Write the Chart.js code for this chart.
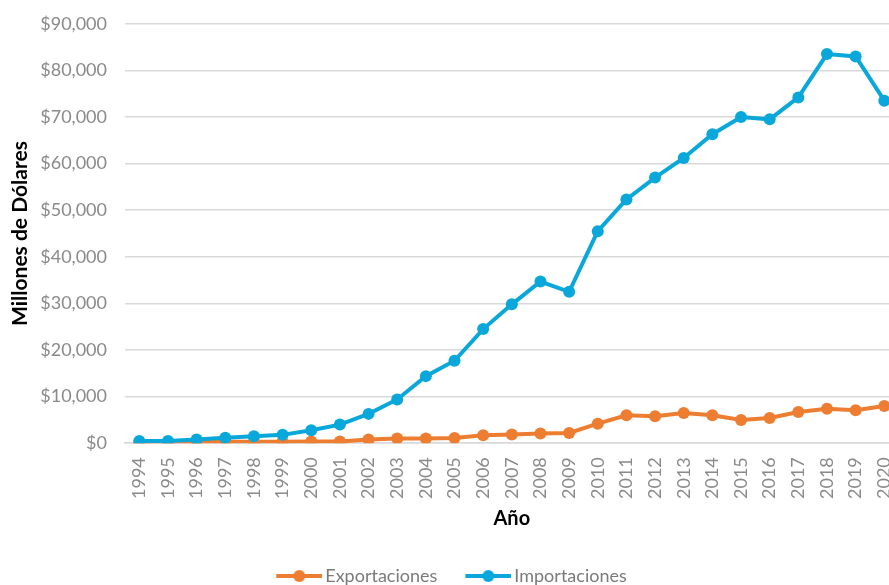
<!DOCTYPE html>
<html>
<head>
<meta charset="utf-8">
<script src="https://cdn.jsdelivr.net/npm/chart.js@4"></script>
<style>
html,body{margin:0;padding:0;background:#fff;overflow:hidden;}
#wrap{width:951px;height:600px;position:relative;margin-top:-5px;margin-left:-39px;}
</style>
</head>
<body>
<div id="wrap"><canvas id="c"></canvas></div>
<script>
const years = ['1994','1995','1996','1997','1998','1999','2000','2001','2002','2003','2004','2005','2006','2007','2008','2009','2010','2011','2012','2013','2014','2015','2016','2017','2018','2019','2020'];
const exportaciones = [200,200,300,300,300,300,400,400,800,1000,1000,1100,1700,1900,2100,2200,4200,6000,5800,6500,6000,5000,5400,6700,7400,7100,8000];
const importaciones = [500,500,800,1200,1500,1800,2800,4000,6300,9400,14400,17700,24500,29800,34700,32500,45500,52300,57000,61200,66300,70000,69500,74200,83500,83000,73500];
const yTicks = [0,10000,20000,30000,40000,50000,60000,70000,80000,90000];

const ORANGE = '#ED7D31';
const BLUE = '#0AA8DA';
const FONT = 'Lato, "Open Sans", sans-serif';

// legend marker: transparent lead-in, then line with a dot
function legendIcon(color){
  const cv = document.createElement('canvas');
  cv.width = 74; cv.height = 14;
  const g = cv.getContext('2d');
  g.strokeStyle = color; g.lineWidth = 4; g.lineCap = 'butt';
  g.beginPath(); g.moveTo(28,7); g.lineTo(74,7); g.stroke();
  g.fillStyle = color; g.beginPath(); g.arc(51,7,6,0,Math.PI*2); g.fill();
  return cv;
}
const icons = {Exportaciones: legendIcon(ORANGE), Importaciones: legendIcon(BLUE)};

new Chart(document.getElementById('c'), {
  type: 'line',
  data: {
    labels: years,
    datasets: [
      {label:'Importaciones', data: importaciones, borderColor: BLUE, backgroundColor: BLUE, borderWidth: 4, pointRadius: 6, pointHoverRadius: 6, pointBackgroundColor: BLUE, pointBorderWidth: 0, tension: 0},
      {label:'Exportaciones', data: exportaciones, borderColor: ORANGE, backgroundColor: ORANGE, borderWidth: 4, pointRadius: 6, pointHoverRadius: 6, pointBackgroundColor: ORANGE, pointBorderWidth: 0, tension: 0}
    ]
  },
  options: {
    responsive: true,
    maintainAspectRatio: false,
    animation: false,
    layout: {padding: {top: 5, left: 8, right: 0, bottom: 0}},
    plugins: {
      tooltip: {enabled: false},
      legend: {
        position: 'bottom',
        reverse: true,
        labels: {
          usePointStyle: true,
          pointStyleWidth: 62,
          boxHeight: 14,
          color: '#7a7a7a',
          font: {family: FONT, size: 18},
          padding: 6,
          generateLabels(chart){
            const items = Chart.defaults.plugins.legend.labels.generateLabels(chart);
            items.forEach(it => { it.pointStyle = icons[it.text]; });
            return items;
          }
        }
      }
    },
    scales: {
      x: {
        offset: true,
        grid: {display: false},
        border: {display: true, color: '#d9d9d9', width: 1.5},
        ticks: {color: '#8a8a8a', font: {family: FONT, size: 18}, maxRotation: 90, minRotation: 90, padding: 6, autoSkip: false},
        title: {display: true, text: 'Año', color: '#000', font: {family: FONT, size: 20, weight: 'bold'}, padding: {top: 2, bottom: 30}}
      },
      y: {
        min: 0, max: 90000,
        afterBuildTicks(axis){ axis.ticks = yTicks.map(v => ({value: v})); },
        afterFit(axis){ axis.width = 156; },
        grid: {color: '#d9d9d9', lineWidth: 1.5, drawTicks: false},
        border: {display: false},
        ticks: {color: '#8a8a8a', font: {family: FONT, size: 18}, padding: 18,
          callback: v => '$' + Number(v).toLocaleString('en-US')},
        title: {display: true, text: 'Millones de Dólares', color: '#000', font: {family: FONT, size: 21, weight: 'bold'}, padding: {top: 39, bottom: 4}}
      }
    }
  }
});
</script>
</body>
</html>
